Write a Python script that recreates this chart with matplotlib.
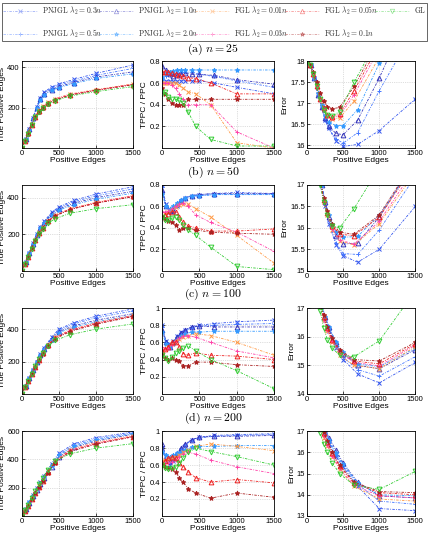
import matplotlib
matplotlib.use('Agg')
import matplotlib.pyplot as plt
from matplotlib.lines import Line2D

plt.rcParams['mathtext.fontset'] = 'cm'
plt.rcParams['font.family'] = ['Liberation Sans', 'DejaVu Sans']

labels = [
    r'$\mathrm{PNJGL}\ \lambda_2 = 0.3n$',
    r'$\mathrm{PNJGL}\ \lambda_2 = 0.5n$',
    r'$\mathrm{PNJGL}\ \lambda_2 = 1.0n$',
    r'$\mathrm{PNJGL}\ \lambda_2 = 2.0n$',
    r'$\mathrm{FGL}\ \lambda_2 = 0.01n$',
    r'$\mathrm{FGL}\ \lambda_2 = 0.03n$',
    r'$\mathrm{FGL}\ \lambda_2 = 0.05n$',
    r'$\mathrm{FGL}\ \lambda_2 = 0.1n$',
    r'$\mathrm{GL}$',
]
colors = ['#3355ee', '#4477ff', '#3636bb', '#3399ff',
          '#ff9944', '#ff44aa', '#ee2222', '#aa2222', '#33cc33']
markers = ['x', '+', '^', '*', 'x', '+', '^', '*', 'v']

# positive edges at which each path was sampled
edges_pnjgl = [0, 50, 100, 150, 200, 250, 300, 400, 500, 700, 1000, 1500]
edges_fgl = [0, 40, 80, 130, 180, 230, 280, 350, 450, 650, 1000, 1500]

captions = [r'$\mathrm{(a)}\ n = 25$', r'$\mathrm{(b)}\ n = 50$',
            r'$\mathrm{(c)}\ n = 100$', r'$\mathrm{(d)}\ n = 200$']

# ---- n = 25
tp_25 = [
    [0, 45, 95, 150, 205, 250, 278, 302, 318, 340, 370, 412],
    [0, 45, 95, 150, 203, 247, 274, 297, 312, 332, 360, 395],
    [0, 44, 93, 148, 200, 242, 268, 290, 305, 325, 352, 378],
    [0, 44, 92, 146, 197, 238, 264, 286, 300, 320, 345, 368],
    [0, 35, 75, 120, 160, 188, 208, 227, 245, 268, 290, 318],
    [0, 35, 74, 118, 158, 186, 206, 225, 243, 266, 288, 316],
    [0, 34, 73, 117, 156, 184, 203, 222, 240, 263, 287, 315],
    [0, 34, 72, 115, 154, 181, 201, 220, 238, 262, 286, 314],
    [0, 34, 72, 115, 153, 179, 198, 217, 235, 258, 280, 305],
]
ratio_25 = [
    [0.62, 0.62, 0.62, 0.62, 0.62, 0.62, 0.62, 0.62, 0.62, 0.60, 0.56, 0.50],
    [0.65, 0.66, 0.67, 0.68, 0.69, 0.70, 0.70, 0.70, 0.68, 0.66, 0.62, 0.56],
    [0.76, 0.72, 0.68, 0.66, 0.67, 0.68, 0.69, 0.68, 0.68, 0.67, 0.63, 0.59],
    [0.65, 0.68, 0.70, 0.71, 0.72, 0.72, 0.72, 0.72, 0.72, 0.72, 0.72, 0.72],
    [0.60, 0.60, 0.60, 0.60, 0.60, 0.58, 0.55, 0.52, 0.50, 0.40, 0.05, 0.00],
    [0.60, 0.60, 0.60, 0.58, 0.55, 0.50, 0.45, 0.40, 0.40, 0.40, 0.15, 0.00],
    [0.70, 0.70, 0.70, 0.69, 0.68, 0.67, 0.66, 0.65, 0.64, 0.60, 0.50, 0.50],
    [0.55, 0.50, 0.45, 0.42, 0.40, 0.40, 0.40, 0.45, 0.45, 0.45, 0.45, 0.45],
    [0.50, 0.52, 0.47, 0.45, 0.45, 0.44, 0.42, 0.33, 0.20, 0.08, 0.02, 0.02],
]
err_25 = [
    [18.0, 17.9, 17.6, 17.2, 16.9, 16.6, 16.4, 16.1, 15.97, 16.02, 16.35, 17.1],
    [18.0, 17.9, 17.6, 17.2, 16.9, 16.6, 16.4, 16.15, 16.05, 16.3, 17.3, 18.8],
    [18.0, 17.9, 17.6, 17.2, 16.9, 16.65, 16.45, 16.28, 16.25, 16.6, 17.6, 19.5],
    [18.0, 17.9, 17.6, 17.25, 16.95, 16.7, 16.55, 16.47, 16.47, 16.85, 17.95, 19.5],
    [18.0, 17.9, 17.7, 17.4, 17.1, 16.85, 16.7, 16.62, 16.65, 17.05, 18.1, 19.5],
    [18.0, 17.9, 17.7, 17.4, 17.1, 16.85, 16.7, 16.65, 16.7, 17.2, 18.3, 19.5],
    [18.0, 17.9, 17.7, 17.4, 17.1, 16.88, 16.72, 16.67, 16.75, 17.3, 18.4, 19.5],
    [18.0, 17.92, 17.75, 17.5, 17.25, 17.05, 16.92, 16.87, 16.9, 17.4, 18.5, 19.5],
    [18.0, 17.9, 17.7, 17.4, 17.1, 16.85, 16.72, 16.7, 16.8, 17.5, 18.6, 19.5],
]

# ---- n = 50
tp_50 = [
    [0, 48, 98, 150, 200, 240, 270, 320, 350, 385, 420, 460],
    [0, 48, 98, 148, 198, 238, 268, 315, 345, 378, 410, 448],
    [0, 47, 97, 147, 196, 235, 264, 310, 338, 370, 400, 435],
    [0, 47, 96, 146, 195, 232, 260, 305, 332, 362, 392, 425],
    [0, 38, 78, 125, 170, 210, 240, 275, 305, 340, 375, 412],
    [0, 38, 78, 124, 168, 208, 238, 273, 303, 338, 373, 410],
    [0, 38, 77, 123, 167, 206, 236, 271, 301, 336, 371, 408],
    [0, 38, 77, 122, 166, 205, 235, 270, 300, 335, 370, 405],
    [0, 38, 76, 120, 163, 200, 228, 260, 285, 315, 340, 362],
]
ratio_50 = [
    [0.80, 0.62, 0.57, 0.56, 0.60, 0.65, 0.68, 0.70, 0.71, 0.72, 0.73, 0.72],
    [0.78, 0.60, 0.55, 0.55, 0.60, 0.64, 0.67, 0.69, 0.70, 0.71, 0.71, 0.71],
    [0.75, 0.60, 0.56, 0.57, 0.62, 0.66, 0.68, 0.70, 0.71, 0.72, 0.72, 0.72],
    [0.72, 0.60, 0.58, 0.60, 0.63, 0.66, 0.68, 0.70, 0.70, 0.71, 0.71, 0.71],
    [0.50, 0.53, 0.55, 0.57, 0.59, 0.61, 0.62, 0.62, 0.58, 0.50, 0.33, 0.07],
    [0.55, 0.55, 0.56, 0.58, 0.60, 0.62, 0.63, 0.60, 0.52, 0.45, 0.36, 0.18],
    [0.50, 0.52, 0.53, 0.55, 0.55, 0.50, 0.45, 0.42, 0.40, 0.37, 0.37, 0.39],
    [0.50, 0.48, 0.46, 0.45, 0.43, 0.38, 0.40, 0.40, 0.38, 0.36, 0.35, 0.34],
    [0.50, 0.47, 0.47, 0.49, 0.50, 0.47, 0.43, 0.38, 0.33, 0.22, 0.04, 0.01],
]
err_50 = [
    [19.0, 18.5, 18.0, 17.6, 17.0, 16.5, 16.1, 15.6, 15.35, 15.2, 15.5, 16.5],
    [19.0, 18.5, 18.0, 17.6, 17.0, 16.55, 16.15, 15.65, 15.4, 15.38, 15.95, 17.2],
    [19.0, 18.5, 18.0, 17.6, 17.0, 16.6, 16.25, 15.8, 15.62, 15.65, 16.25, 17.6],
    [19.0, 18.5, 18.0, 17.6, 17.0, 16.6, 16.3, 15.9, 15.78, 15.8, 16.3, 17.5],
    [19.0, 18.5, 18.2, 17.7, 17.1, 16.6, 16.3, 15.95, 15.7, 15.6, 16.1, 17.3],
    [19.0, 18.5, 18.2, 17.7, 17.1, 16.6, 16.3, 15.97, 15.72, 15.62, 16.15, 17.4],
    [19.0, 18.5, 18.2, 17.7, 17.1, 16.65, 16.35, 16.05, 15.85, 15.82, 16.25, 17.5],
    [19.0, 18.5, 18.2, 17.7, 17.1, 16.7, 16.4, 16.1, 15.9, 15.85, 16.3, 17.6],
    [19.0, 18.5, 18.2, 17.7, 17.0, 16.6, 16.3, 16.05, 16.0, 16.45, 17.4, 19.0],
]

# ---- n = 100
tp_100 = [
    [0, 50, 100, 150, 200, 245, 285, 350, 400, 440, 480, 525],
    [0, 50, 100, 150, 200, 243, 282, 345, 393, 432, 470, 512],
    [0, 50, 100, 150, 199, 240, 278, 338, 385, 420, 455, 495],
    [0, 50, 100, 150, 198, 238, 275, 333, 378, 412, 445, 485],
    [0, 40, 78, 125, 170, 215, 255, 305, 350, 395, 440, 485],
    [0, 40, 78, 124, 168, 213, 253, 302, 347, 392, 437, 482],
    [0, 40, 77, 123, 167, 211, 250, 300, 344, 389, 434, 480],
    [0, 40, 77, 122, 165, 208, 247, 297, 340, 385, 430, 478],
    [0, 40, 78, 125, 170, 215, 252, 295, 330, 365, 400, 432],
]
ratio_100 = [
    [0.80, 0.62, 0.58, 0.62, 0.68, 0.72, 0.75, 0.78, 0.80, 0.82, 0.84, 0.86],
    [0.78, 0.60, 0.55, 0.60, 0.66, 0.70, 0.74, 0.77, 0.79, 0.80, 0.81, 0.82],
    [0.75, 0.60, 0.55, 0.60, 0.66, 0.71, 0.74, 0.78, 0.79, 0.78, 0.78, 0.78],
    [0.72, 0.58, 0.55, 0.58, 0.63, 0.67, 0.70, 0.72, 0.72, 0.73, 0.73, 0.73],
    [0.50, 0.52, 0.55, 0.58, 0.62, 0.64, 0.66, 0.68, 0.70, 0.68, 0.60, 0.45],
    [0.55, 0.52, 0.53, 0.57, 0.62, 0.65, 0.67, 0.68, 0.66, 0.60, 0.50, 0.42],
    [0.50, 0.52, 0.55, 0.60, 0.60, 0.55, 0.47, 0.45, 0.48, 0.45, 0.44, 0.40],
    [0.45, 0.42, 0.40, 0.42, 0.40, 0.38, 0.33, 0.33, 0.37, 0.37, 0.34, 0.32],
    [0.45, 0.42, 0.38, 0.43, 0.48, 0.50, 0.53, 0.56, 0.50, 0.40, 0.27, 0.06],
]
err_100 = [
    [19.0, 18.5, 18.0, 17.6, 17.1, 16.6, 16.2, 15.6, 15.2, 14.7, 14.38, 15.1],
    [19.0, 18.5, 18.0, 17.6, 17.1, 16.6, 16.25, 15.65, 15.28, 14.85, 14.62, 15.3],
    [19.0, 18.5, 18.0, 17.6, 17.15, 16.7, 16.35, 15.8, 15.4, 15.0, 14.88, 15.55],
    [19.0, 18.5, 18.0, 17.6, 17.15, 16.7, 16.35, 15.8, 15.45, 15.05, 14.95, 15.6],
    [19.0, 18.5, 18.2, 17.7, 17.1, 16.6, 16.2, 15.8, 15.35, 15.0, 14.88, 15.65],
    [19.0, 18.5, 18.2, 17.7, 17.1, 16.6, 16.25, 15.85, 15.45, 15.1, 14.98, 15.7],
    [19.0, 18.5, 18.2, 17.7, 17.15, 16.7, 16.3, 15.9, 15.5, 15.15, 15.05, 15.75],
    [19.0, 18.5, 18.2, 17.7, 17.2, 16.75, 16.35, 15.95, 15.55, 15.2, 15.15, 15.8],
    [19.0, 18.5, 18.2, 17.6, 16.9, 16.3, 15.9, 15.6, 15.35, 15.3, 15.85, 17.6],
]

# ---- n = 200
tp_200 = [
    [0, 50, 100, 150, 195, 240, 285, 370, 445, 510, 555, 595],
    [0, 49, 98, 147, 192, 236, 280, 363, 435, 500, 545, 588],
    [0, 47, 95, 142, 186, 228, 270, 350, 420, 485, 530, 578],
    [0, 48, 96, 144, 189, 232, 275, 356, 428, 492, 538, 582],
    [0, 38, 76, 124, 170, 215, 258, 317, 392, 470, 520, 568],
    [0, 37, 75, 122, 167, 212, 255, 314, 388, 465, 515, 565],
    [0, 36, 73, 119, 163, 207, 250, 308, 382, 460, 512, 562],
    [0, 36, 72, 118, 162, 205, 248, 305, 378, 455, 508, 560],
    [0, 40, 80, 130, 178, 225, 268, 325, 390, 440, 480, 512],
]
ratio_200 = [
    [0.80, 0.65, 0.60, 0.65, 0.72, 0.78, 0.83, 0.90, 0.93, 0.95, 0.96, 0.97],
    [0.82, 0.66, 0.62, 0.66, 0.73, 0.79, 0.84, 0.90, 0.92, 0.94, 0.95, 0.96],
    [0.85, 0.70, 0.65, 0.68, 0.74, 0.80, 0.85, 0.90, 0.93, 0.94, 0.94, 0.95],
    [0.75, 0.72, 0.70, 0.72, 0.74, 0.76, 0.78, 0.81, 0.82, 0.82, 0.83, 0.83],
    [0.65, 0.66, 0.67, 0.68, 0.70, 0.72, 0.75, 0.78, 0.82, 0.85, 0.82, 0.77],
    [0.60, 0.62, 0.62, 0.64, 0.66, 0.70, 0.73, 0.75, 0.73, 0.66, 0.58, 0.50],
    [0.62, 0.65, 0.68, 0.70, 0.68, 0.63, 0.58, 0.52, 0.45, 0.40, 0.43, 0.39],
    [0.60, 0.58, 0.56, 0.55, 0.52, 0.45, 0.40, 0.32, 0.27, 0.21, 0.27, 0.22],
    [0.60, 0.57, 0.55, 0.56, 0.58, 0.62, 0.68, 0.75, 0.80, 0.76, 0.70, 0.60],
]
err_200 = [
    [20.0, 19.0, 18.3, 17.7, 17.2, 16.8, 16.4, 15.8, 15.3, 14.4, 13.35, 13.25],
    [20.0, 19.0, 18.3, 17.8, 17.3, 16.9, 16.5, 15.9, 15.4, 14.5, 13.7, 13.55],
    [20.0, 19.0, 18.5, 18.0, 17.5, 17.1, 16.7, 16.1, 15.5, 14.6, 13.95, 13.85],
    [20.0, 19.0, 18.4, 17.9, 17.4, 17.0, 16.6, 15.95, 15.45, 14.55, 14.0, 13.95],
    [20.0, 19.0, 18.4, 17.8, 17.2, 16.7, 16.3, 15.8, 15.2, 14.4, 13.8, 13.7],
    [20.0, 19.0, 18.4, 17.8, 17.2, 16.75, 16.35, 15.85, 15.25, 14.45, 13.95, 13.85],
    [20.0, 19.0, 18.5, 17.9, 17.35, 16.9, 16.5, 15.95, 15.35, 14.55, 14.1, 14.0],
    [20.0, 19.0, 18.5, 17.9, 17.4, 16.95, 16.55, 16.0, 15.4, 14.6, 14.15, 14.1],
    [20.0, 19.0, 18.3, 17.6, 16.9, 16.4, 16.0, 15.5, 15.0, 14.45, 14.25, 15.1],
]

rows = [
    (tp_25, ratio_25, err_25),
    (tp_50, ratio_50, err_50),
    (tp_100, ratio_100, err_100),
    (tp_200, ratio_200, err_200),
]

tp_ylim = [(0, 430), (0, 470), (0, 530), (0, 600)]
tp_ticks = [[200, 400], [200, 400], [200, 400], [200, 400, 600]]
ratio_ylim = [(0, 0.8), (0, 0.8), (0, 1), (0, 1)]
ratio_ticks = [[0.2, 0.4, 0.6, 0.8], [0.2, 0.4, 0.6, 0.8],
               [0.2, 0.4, 0.6, 0.8, 1], [0.2, 0.4, 0.6, 0.8, 1]]
err_ylim = [(15.93, 18), (15, 17), (14, 17), (13, 17)]
err_ticks = [[16, 16.5, 17, 17.5, 18], [15, 15.5, 16, 16.5, 17],
             [14, 15, 16, 17], [13, 14, 15, 16, 17]]
err_ticklabels = [['16', '16.5', '17', '17.5', '18'], ['15', '15.5', '16', '16.5', '17'],
                  ['14', '15', '16', '17'], ['13', '14', '15', '16', '17']]

fig = plt.figure(figsize=(4.29, 5.33), dpi=100)

col_left = [0.051, 0.378, 0.716]
col_width = [0.259, 0.261, 0.252]
row_bottom = [0.722, 0.492, 0.261, 0.032]
row_height = [0.163, 0.161, 0.161, 0.159]
caption_y = [0.908, 0.677, 0.448, 0.216]

ls = (0, (3, 1.5, 1, 1.5))

for r, (tp, ratio, err) in enumerate(rows):
    fig.text(0.497, caption_y[r], captions[r], ha='center', va='center', fontsize=8.5)
    for c, vals in enumerate([tp, ratio, err]):
        ax = fig.add_axes([col_left[c], row_bottom[r], col_width[c], row_height[r]])
        for i in range(9):
            xs = edges_pnjgl if i < 4 else edges_fgl
            filled = markers[i] in ['x', '+', '*']
            ax.plot(xs, vals[i], linestyle=ls, linewidth=0.6, color=colors[i],
                    marker=markers[i], markersize=3.4, markeredgewidth=0.7,
                    markerfacecolor=colors[i] if filled else 'none',
                    markeredgecolor=colors[i])
        ax.set_xlim(0, 1500)
        ax.set_xticks([0, 500, 1000, 1500])
        if c == 0:
            ax.set_ylim(*tp_ylim[r])
            ax.set_yticks(tp_ticks[r])
            ax.set_ylabel('True Positive Edges', fontsize=6, labelpad=1)
        elif c == 1:
            ax.set_ylim(*ratio_ylim[r])
            ax.set_yticks(ratio_ticks[r])
            ax.set_yticklabels([f'{t:g}' for t in ratio_ticks[r]])
            ax.set_ylabel('TPPC / PPC', fontsize=6, labelpad=1)
        else:
            ax.set_ylim(*err_ylim[r])
            ax.set_yticks(err_ticks[r])
            ax.set_yticklabels(err_ticklabels[r])
            ax.set_ylabel('Error', fontsize=6, labelpad=1)
        ax.set_xlabel('Positive Edges', fontsize=6, labelpad=0)
        ax.tick_params(labelsize=5.5, direction='in', length=2, width=0.5, pad=1.5)
        ax.grid(True, linestyle=':', color='0.75', linewidth=0.5)
        for sp in ax.spines.values():
            sp.set_linewidth(0.6)

handles = []
for i in range(9):
    filled = markers[i] in ['x', '+', '*']
    handles.append(Line2D([], [], linestyle=ls, linewidth=0.6, color=colors[i],
                          marker=markers[i], markersize=3.2, markeredgewidth=0.6,
                          markerfacecolor=colors[i] if filled else 'none',
                          alpha=0.45))

leg = fig.legend(handles, labels, loc='upper left', ncol=5, mode='expand',
                 bbox_to_anchor=(0.004, 0.929, 0.992, 0.065), borderaxespad=0,
                 fontsize=5.5, labelspacing=1.45, handlelength=4.5, handletextpad=0.6,
                 columnspacing=0.8, borderpad=0.15, fancybox=False, framealpha=1)
leg.get_frame().set_edgecolor('0.3')
leg.get_frame().set_linewidth(0.6)
for t in leg.get_texts():
    t.set_color('0.2')

fig.savefig('out.png', dpi=100)
